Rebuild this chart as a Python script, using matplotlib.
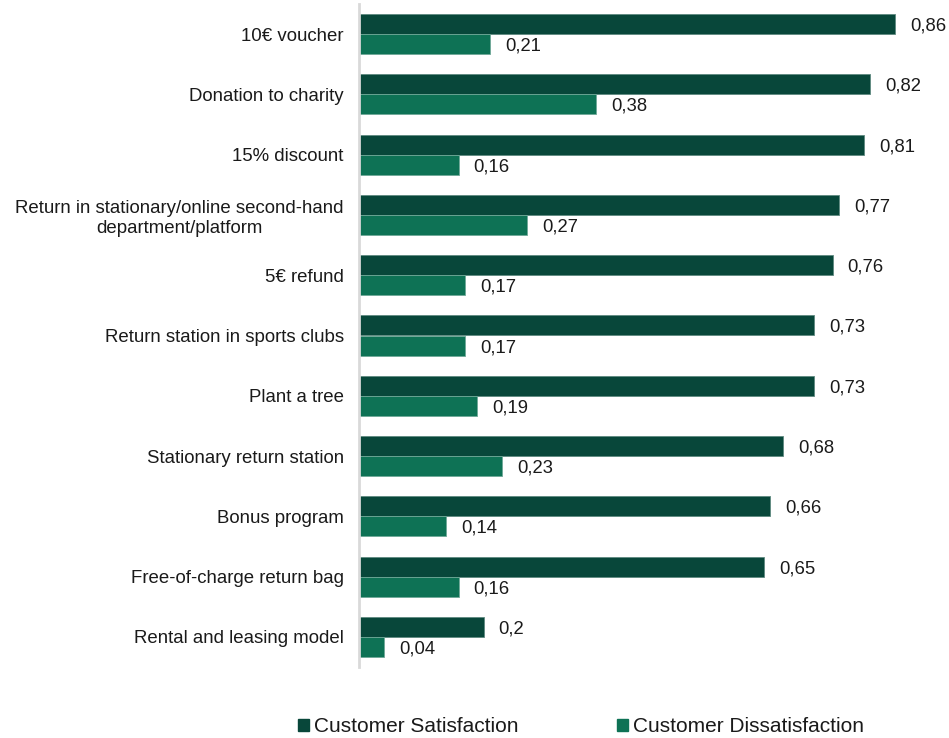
import matplotlib
matplotlib.use("Agg")
import matplotlib.pyplot as plt
import numpy as np
from matplotlib.patches import Patch

plt.rcParams['font.family'] = ['Liberation Sans', 'DejaVu Sans']

categories = [
    "10€ voucher",
    "Donation to charity",
    "15% discount",
    "Return in stationary/online second-hand\ndepartment/platform",
    "5€ refund",
    "Return station in sports clubs",
    "Plant a tree",
    "Stationary return station",
    "Bonus program",
    "Free-of-charge return bag",
    "Rental and leasing model",
]
satisfaction = [0.86, 0.82, 0.81, 0.77, 0.76, 0.73, 0.73, 0.68, 0.66, 0.65, 0.2]
dissatisfaction = [0.21, 0.38, 0.16, 0.27, 0.17, 0.17, 0.19, 0.23, 0.14, 0.16, 0.04]
series_names = ["Customer Satisfaction", "Customer Dissatisfaction"]

dark = "#08473A"
light = "#0E7255"
text_color = "#1a1a1a"

W, H = 949, 738
fig = plt.figure(figsize=(W / 100, H / 100), dpi=100)
ax = fig.add_axes([359 / W, (H - 667) / H, 561 / W, 663 / H])

y = np.arange(len(categories))
bh = 0.332
ax.barh(y - bh / 2, satisfaction, height=bh, color=dark, edgecolor="#5E8A80", linewidth=0.6)
ax.barh(y + bh / 2, dissatisfaction, height=bh, color=light, edgecolor="#6FA898", linewidth=0.6)


def fmt(v):
    return f"{v:g}".replace(".", ",")


for yi, v in zip(y, satisfaction):
    ax.annotate(fmt(v), (v, yi - bh / 2), xytext=(15, -2), textcoords="offset pixels",
                va="center", ha="left", fontsize=13.3, color=text_color)
for yi, v in zip(y, dissatisfaction):
    ax.annotate(fmt(v), (v, yi + bh / 2), xytext=(15, -2), textcoords="offset pixels",
                va="center", ha="left", fontsize=13.3, color=text_color)

ax.set_xlim(0, 0.9)
ax.set_ylim(len(categories) - 0.5, -0.5)
ax.set_yticks(y)
ax.set_yticklabels(categories, fontsize=13.4, color=text_color, ha="right", multialignment="center")
ax.tick_params(axis="y", length=0, pad=11)
ax.set_xticks([])
for s in ["top", "right", "bottom"]:
    ax.spines[s].set_visible(False)
ax.spines["left"].set_color("#D9D9D9")
ax.spines["left"].set_linewidth(2)

handles = [Patch(facecolor=dark, edgecolor=dark), Patch(facecolor=light, edgecolor=light)]
fig.legend(handles, series_names, loc="center", bbox_to_anchor=(581 / W, 1 - 727 / H),
           ncol=2, frameon=False, fontsize=15, handlelength=0.53, handleheight=0.53,
           handletextpad=0.24, columnspacing=4.7, labelcolor=text_color,
           borderpad=0, borderaxespad=0)

fig.savefig("out.png", dpi=100)
